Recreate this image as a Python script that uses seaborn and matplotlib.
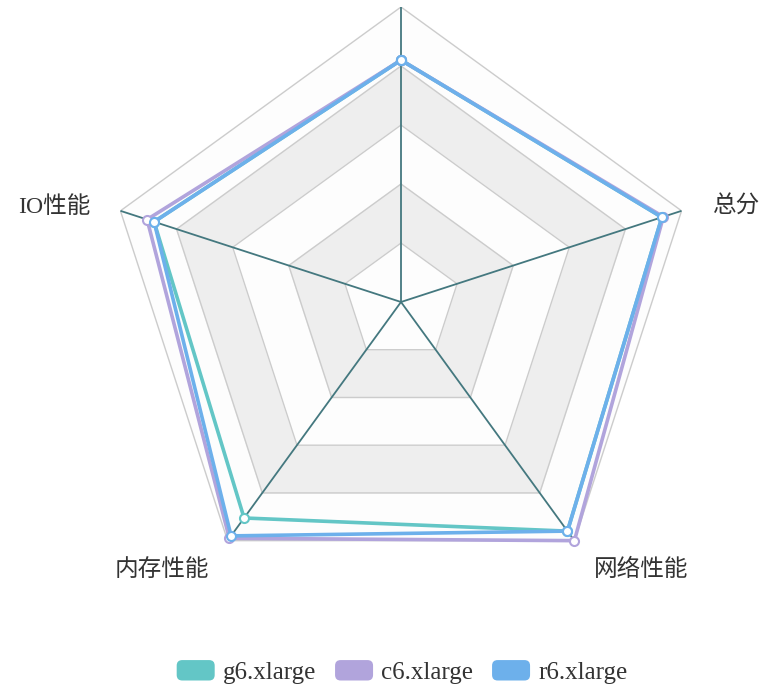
import numpy as np
import pandas as pd
import matplotlib.pyplot as plt
import seaborn as sns
from matplotlib.patches import Patch, FancyBboxPatch
from matplotlib.legend_handler import HandlerPatch

# Data
indicators = ["", "总分", "网络性能", "内存性能", "IO性能"]
max_value = 100
series_names = ["g6.xlarge", "c6.xlarge", "r6.xlarge"]
g6_values = [82, 93, 96, 90.5, 88]
c6_values = [82, 93.5, 100, 99, 90.5]
r6_values = [82, 93, 96, 98, 88]
colors = ["#63c6c6", "#b1a4dc", "#6db0eb"]

sns.set_style("white")
plt.rcParams["font.family"] = ["Liberation Serif", "Noto Sans CJK SC", "DejaVu Sans"]

W, H = 782, 698
cx, cy, rad = 401, 302, 295
fig = plt.figure(figsize=(W / 100, H / 100), dpi=100)
ax = fig.add_axes([(cx - rad) / W, (H - cy - rad) / H, 2 * rad / W, 2 * rad / H], projection="polar")
ax.set_theta_zero_location("N")
ax.set_theta_direction(-1)
ax.set_ylim(0, max_value)
ax.grid(False)
ax.set_xticks([])
ax.set_yticks([])
ax.spines["polar"].set_visible(False)
ax.patch.set_alpha(0)

n = len(indicators)
angles = np.linspace(0, 2 * np.pi, n, endpoint=False)
closed = np.append(angles, angles[0])

# split areas and split lines
levels = np.linspace(max_value, 0, 6)[:-1]
area_colors = ["#fdfdfd", "#eeeeee"]
for i, lv in enumerate(levels):
    ax.fill(closed, [lv] * (n + 1), color=area_colors[i % 2], zorder=1)
    ax.plot(closed, [lv] * (n + 1), color="#cccccc", lw=1, zorder=2)

# axis lines
for a in angles:
    ax.plot([a, a], [0, max_value], color="#44787f", lw=1.3, zorder=3)

# series
rows = []
for name, vals in zip(series_names, [g6_values, c6_values, r6_values]):
    for a, v in zip(closed, vals + [vals[0]]):
        rows.append({"series": name, "theta": a, "value": v})
df = pd.DataFrame(rows)
sns.lineplot(data=df, x="theta", y="value", hue="series", palette=colors, sort=False,
             estimator=None, lw=2.6, marker="o", markersize=6.5, markerfacecolor="white",
             markeredgewidth=1.5, ax=ax, legend=False, zorder=5)
for line, c in zip(ax.lines[-3:], colors):
    line.set_markeredgecolor(c)
    line.set_clip_on(False)

# axis names
offsets = {1: (31, 4, "left", "center"), 2: (20, -29, "left", "center"),
           3: (-18, -29, "right", "center"), 4: (-30, 4, "right", "center")}
for i, name in enumerate(indicators):
    if not name:
        continue
    dx, dy, ha, va = offsets[i]
    ax.annotate(name, xy=(angles[i], max_value), xytext=(dx, dy), textcoords="offset pixels",
                ha=ha, va=va, fontsize=17, color="#333333", annotation_clip=False)


# legend with rounded boxes
def make_round(legend, orig_handle, xdescent, ydescent, width, height, fontsize):
    return FancyBboxPatch((-xdescent, -ydescent), width, height,
                          boxstyle="round,pad=0,rounding_size=4")


handles = [Patch(facecolor=c, edgecolor="none") for c in colors]
fig.legend(handles, series_names, loc="center", bbox_to_anchor=(402 / W, 1 - 672 / H),
           ncol=3, frameon=False, fontsize=18, handlelength=1.52, handleheight=0.88,
           handletextpad=0.32, columnspacing=0.76, labelcolor="#333333",
           handler_map={Patch: HandlerPatch(patch_func=make_round)})

fig.savefig("out.png", dpi=100)
